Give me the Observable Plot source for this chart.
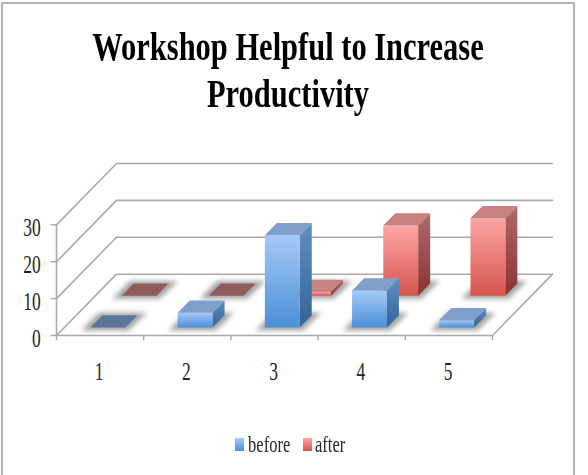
<!DOCTYPE html>
<html><head><meta charset="utf-8">
<script src="https://cdn.jsdelivr.net/npm/d3@7"></script>
<script src="https://cdn.jsdelivr.net/npm/@observablehq/plot@0.6"></script>
<style>
html,body{margin:0;padding:0;background:#fff;width:588px;height:475px;overflow:hidden}
#frame{position:absolute;left:1px;top:2px;width:570px;height:480px;border:2px solid #b4b4b4;box-sizing:content-box}
.t{position:absolute;left:0;width:576px;text-align:center;font:bold 40px "Liberation Serif",serif;color:#000;transform:scaleX(.762);transform-origin:288px 0;white-space:nowrap;line-height:46px}
#chart{position:absolute;left:0;top:130px}
#legend{position:absolute;top:432px;left:0;width:100%;font:23px "Liberation Serif",serif;color:#262626}
#legend span.s{position:absolute;top:6px;width:9px;height:13px}
#legend span.l{position:absolute;top:0;transform:scaleX(.72);transform-origin:0 0}
</style></head><body>
<div id="frame"></div>
<div class="t" style="top:24px">Workshop Helpful to Increase</div>
<div class="t" style="top:71px">Productivity</div>
<div id="chart"></div>
<div id="legend">
<span class="s" style="left:235px;background:linear-gradient(#a6c9f7,#4a90d9)"></span><span class="l" style="left:248px">before</span>
<span class="s" style="left:303px;background:linear-gradient(#fba5a5,#d9534f)"></span><span class="l" style="left:315px">after</span>
</div>
<script>
const categories = [1, 2, 3, 4, 5];
const before = [0, 4, 25, 10, 2];
const after = [0, 0, 1, 19, 21];
const yTicks = [0, 10, 20, 30];
const xBoundaries = [0, 1, 2, 3, 4, 5];

// oblique projection of (category position, value, depth) to the two scale axes
const skewX = 60 / 87.2, skewY = 61.5 / 3.7;
const px = (c, d) => c + d * skewX;
const py = (v, d) => v + d * skewY;
const pt = (c, v, d, id) => ({x: px(c, d), y: py(v, d), id});

const halfBar = 0.2;
function faces(values, d0, d1, name, fr, si, to, flat) {
  const sh = [], front = [], side = [], top = [], zero = [];
  values.forEach((v, i) => {
    const c = i + 0.5, a = c - halfBar, b = c + halfBar, id = name + i;
    sh.push(pt(a - 0.07, 0, d0 - 0.05, id), pt(b + 0.07, 0, d0 - 0.05, id),
            pt(b + 0.08, 0, d1 + 0.04, id), pt(a - 0.07, 0, d1 + 0.04, id));
    const roof = [pt(a,v,d0,id), pt(b,v,d0,id), pt(b,v,d1,id), pt(a,v,d1,id)];
    if (v > 0) {
      front.push(pt(a,0,d0,id), pt(b,0,d0,id), pt(b,v,d0,id), pt(a,v,d0,id));
      side.push(pt(b,0,d0,id), pt(b,0,d1,id), pt(b,v,d1,id), pt(b,v,d0,id));
      top.push(...roof);
    } else zero.push(...roof);
  });
  const poly = (data, fill, extra = {}) => Plot.line(data, {x: "x", y: "y", z: "id", fill, stroke: "none", curve: "linear", ...extra});
  return [
    poly(sh, "#a3a3a3", {imageFilter: "blur(2.5px)"}),
    poly(side, `url(#${si})`),
    poly(front, `url(#${fr})`),
    poly(top, to),
    poly(zero, flat)
  ];
}

const wall = yTicks.flatMap(v => [pt(0,v,0,"v"+v), pt(0,v,1,"v"+v), pt(5,v,1,"v"+v)]);
const floorEdge = [pt(5,0,1,"f"), pt(5,0,0,"f"), pt(0,0,0,"f")];
const leftEdge = [pt(0,0,0,"l"), pt(0,30,0,"l")];

const gradient = (id, c1, c2) => `<linearGradient id="${id}" x1="0" y1="0" x2="0" y2="1"><stop offset="0" stop-color="${c1}"/><stop offset="1" stop-color="${c2}"/></linearGradient>`;
const defs = () => {
  const g = document.createElementNS("http://www.w3.org/2000/svg", "defs");
  g.innerHTML = gradient("bf", "#a6c9f8", "#4a8fd6") + gradient("bs", "#5f8fc0", "#32639a")
    + gradient("af", "#fca6a4", "#d6544e") + gradient("as", "#b06a68", "#8a3230");
  return g;
};

const labelStyle = {fontSize: 25, fontFamily: "Liberation Serif", fill: "#262626", className: "narrow"};
const plot = Plot.plot({
  width: 588, height: 250,
  marginLeft: 56, marginRight: 36, marginTop: 33, marginBottom: 45,
  x: {domain: [0, px(5, 1)], axis: null},
  y: {domain: [0, py(30, 1)], axis: null},
  style: {background: "transparent", overflow: "visible"},
  marks: [
    defs,
    Plot.line(wall, {x: "x", y: "y", z: "id", stroke: "#a9a9a9", strokeWidth: 1.6}),
    Plot.line(floorEdge, {x: "x", y: "y", z: "id", stroke: "#a9a9a9", strokeWidth: 1.6}),
    Plot.line(leftEdge, {x: "x", y: "y", z: "id", stroke: "#a9a9a9", strokeWidth: 1.6}),
    ...faces(after, 0.65, 0.85, "a", "af", "as", "#c78280", "#8f5c5c"),
    ...faces(before, 0.13, 0.33, "b", "bf", "bs", "#7f9fcb", "#5b7599"),
    Plot.ruleY(yTicks, {y: d => d, x1: -0.06, x2: 0, stroke: "#a9a9a9", strokeWidth: 1.4}),
    Plot.text(yTicks, {y: d => d, x: -0.18, dy: 3, textAnchor: "end", text: d => d, ...labelStyle}),
    Plot.ruleX(xBoundaries, {x: d => d, y1: 0, y2: -1.4, stroke: "#a9a9a9", strokeWidth: 1.4}),
    Plot.text(categories, {x: (d, i) => i + 0.49, y: -9.9, text: d => d, ...labelStyle})
  ]
});
// the reference's digits are condensed: narrow each label about its own anchor
plot.querySelectorAll("g.narrow text").forEach(t => {
  t.setAttribute("transform", (t.getAttribute("transform") || "") + " scale(.7,1)");
});
document.getElementById("chart").append(plot);
</script>
</body></html>
